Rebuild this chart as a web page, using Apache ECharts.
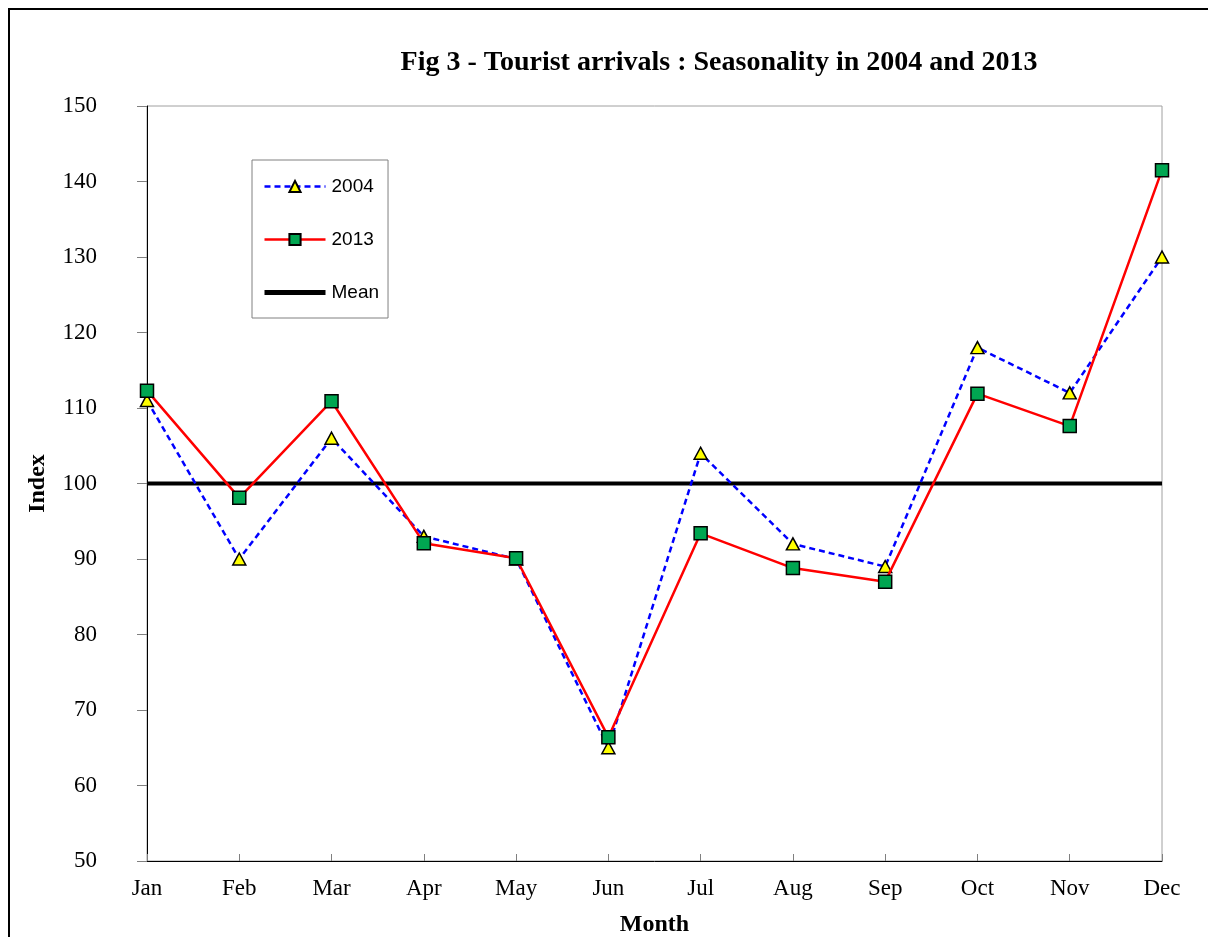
<!DOCTYPE html>
<html>
<head>
<meta charset="utf-8">
<script src="https://cdn.jsdelivr.net/npm/echarts@6/dist/echarts.min.js"></script>
<style>
html,body{margin:0;padding:0;background:#fff;}
#chart{width:1208px;height:937px;}
</style>
</head>
<body>
<div id="chart"></div>
<script>
const months = ['Jan','Feb','Mar','Apr','May','Jun','Jul','Aug','Sep','Oct','Nov','Dec'];
const series2004 = [111, 90, 106, 93, 90, 65, 104, 92, 89, 118, 112, 130];
const series2013 = [112.3, 98.1, 110.9, 92.1, 90.1, 66.4, 93.4, 88.8, 87.0, 111.9, 107.6, 141.5];
const meanValues = [100, 100, 100, 100, 100, 100, 100, 100, 100, 100, 100, 100];
const yTicks = [50, 60, 70, 80, 90, 100, 110, 120, 130, 140, 150];

const chart = echarts.init(document.getElementById('chart'));
const serif = '"Liberation Serif", "Times New Roman", serif';
const sans = '"Liberation Sans", Arial, sans-serif';

chart.setOption({
  animation: false,
  backgroundColor: '#fff',
  title: {
    text: 'Fig 3 - Tourist arrivals : Seasonality in 2004 and 2013',
    left: 714, top: 44, textAlign: 'center',
    textStyle: {fontFamily: serif, fontWeight: 'bold', fontSize: 28, color: '#000'}
  },
  graphic: [{
    type: 'rect', silent: true,
    shape: {x: 9, y: 9, width: 1400, height: 1200},
    style: {fill: 'none', stroke: '#000', lineWidth: 2}
  }],
  legend: {
    orient: 'vertical', left: 252, top: 160,
    padding: [17, 9, 16, 10],
    itemWidth: 61, itemHeight: 14, itemGap: 34,
    backgroundColor: '#fff', borderColor: '#808080', borderWidth: 1,
    textStyle: {fontFamily: sans, fontSize: 19, color: '#000', padding: [0,0,0,1]},
    data: [
      {name: '2004', lineStyle: {width: 2.5}},
      {name: '2013', lineStyle: {width: 2.5}},
      {name: 'Mean', lineStyle: {width: 5}, itemStyle: {opacity: 0}}
    ]
  },
  grid: {
    left: 147, right: 46, top: 106, bottom: 76,
    outerBoundsMode: 'none', containLabel: false,
    show: true, borderColor: '#a0a0a0', borderWidth: 1, backgroundColor: 'transparent'
  },
  xAxis: {
    type: 'category', data: months, boundaryGap: false,
    name: 'Month', nameLocation: 'middle', nameGap: 52,
    nameTextStyle: {fontFamily: serif, fontWeight: 'bold', fontSize: 24, color: '#000'},
    axisLine: {lineStyle: {color: '#000', width: 1}},
    axisTick: {inside: true, length: 7, lineStyle: {color: '#808080'}},
    axisLabel: {fontFamily: serif, fontSize: 23, color: '#000', margin: 16},
    splitLine: {show: false}
  },
  yAxis: {
    type: 'value', min: yTicks[0], max: yTicks[yTicks.length-1], interval: 10,
    name: 'Index', nameLocation: 'middle', nameGap: 97, nameRotate: 90,
    nameTextStyle: {fontFamily: serif, fontWeight: 'bold', fontSize: 24, color: '#000'},
    axisLine: {show: true, lineStyle: {color: '#000', width: 1}},
    axisTick: {show: true, inside: false, length: 10, lineStyle: {color: '#808080'}},
    axisLabel: {fontFamily: serif, fontSize: 23, color: '#000', margin: 50},
    splitLine: {show: false}
  },
  series: [
    {
      name: 'Mean', type: 'line', data: meanValues, symbol: 'none', z: 1,
      lineStyle: {color: '#000', width: 4}, itemStyle: {color: '#000'}
    },
    {
      name: '2004', type: 'line', data: series2004, z: 3,
      symbol: 'triangle', symbolSize: [13, 12],
      lineStyle: {color: '#0000ff', width: 2.5, type: [6, 4]},
      itemStyle: {color: '#ffff00', borderColor: '#000', borderWidth: 1.5}
    },
    {
      name: '2013', type: 'line', data: series2013, z: 4,
      symbol: 'rect', symbolSize: 13,
      lineStyle: {color: '#ff0000', width: 2.5},
      itemStyle: {color: '#00a651', borderColor: '#000', borderWidth: 1.5}
    }
  ]
});
</script>
</body>
</html>
